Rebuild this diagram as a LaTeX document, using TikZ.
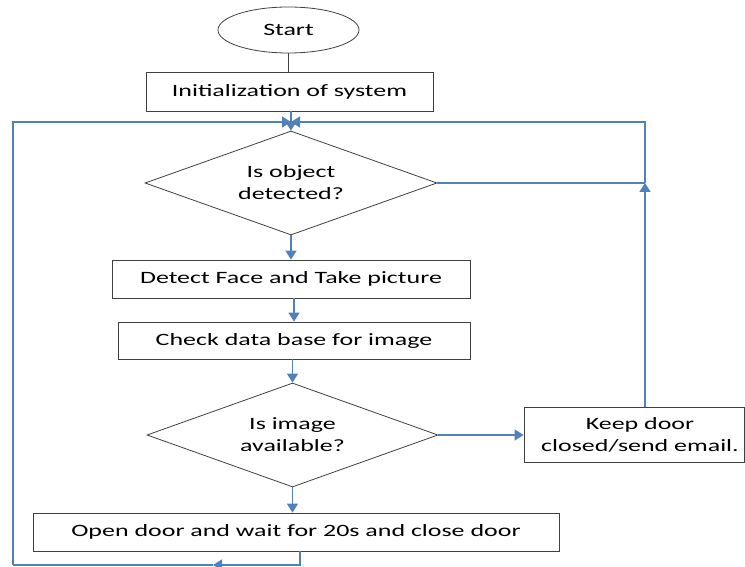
\documentclass[tikz,border=0pt]{standalone}
\usepackage{fontspec}
\setmainfont{Carlito}[FakeStretch=1.5]
\usetikzlibrary{shapes.geometric,arrows.meta}
\definecolor{wordblue}{HTML}{4F81BD}
\begin{document}
\begin{tikzpicture}[x=1pt,y=-1pt,
  box/.style={draw=black!75, line width=0.8pt, rectangle, inner sep=0pt, align=center},
  dec/.style={draw=black!75, line width=0.8pt, diamond, aspect=2.8, inner sep=0pt, align=center, minimum width=292pt, minimum height=104pt},
  conn/.style={draw=wordblue, line width=1.5pt},
  arr/.style={conn, -{Triangle[length=9pt,width=11pt]}},
  font=\fontsize{17.3}{22}\selectfont]
\useasboundingbox (0,0) rectangle (745,567);
\node[box, ellipse, minimum width=141pt, minimum height=46pt] (start) at (288.5,30) {Start};
\node[box, minimum width=287pt, minimum height=39pt] (init) at (289.5,91.5) {Initialization of system};
\node[dec] (dec1) at (291,183) {Is object\\detected?};
\node[box, minimum width=358pt, minimum height=38pt] (detect) at (291,279) {Detect Face and Take picture};
\node[box, minimum width=352pt, minimum height=37pt] (check) at (294,340.5) {Check data base for image};
\node[dec, minimum width=291pt] (dec2) at (292.5,435) {Is image\\available?};
\node[box, minimum width=220pt, minimum height=55pt] (keep) at (634,434.5) {\hspace*{12pt}Keep door\\\hspace*{12pt}closed/send email.};
\node[box, minimum width=526pt, minimum height=38pt] (open) at (296,532) {Open door and wait for 20s and close door};
\coordinate (merge) at (291,122);
\coordinate (rjoin) at (645,183);
\coordinate (bend) at (213,565);
\coordinate (lcorner) at (13,565);
\draw[black!75, line width=0.8pt] (start.south) -- (start.south |- init.north);
\draw[arr] (dec1.north |- init.south) -- (dec1.north);
\draw[arr] (dec1.south) -- (dec1.south |- detect.north);
\draw[arr] (check.north |- detect.south) -- (check.north);
\draw[arr] (dec2.north |- check.south) -- (dec2.north);
\draw[arr] (dec2.south) -- (dec2.south |- open.north);
\draw[arr] (dec2.east) -- (dec2.east -| keep.west);
\draw[arr] (keep.north -| rjoin) -- (rjoin);
\draw[conn] (dec1.east) -- (rjoin);
\draw[arr] (rjoin) |- (merge);
\draw[arr] ([xshift=4pt]open.south) |- (bend);
\draw[conn] (bend) -- (lcorner);
\draw[arr] (lcorner) |- (merge);
\end{tikzpicture}
\end{document}
